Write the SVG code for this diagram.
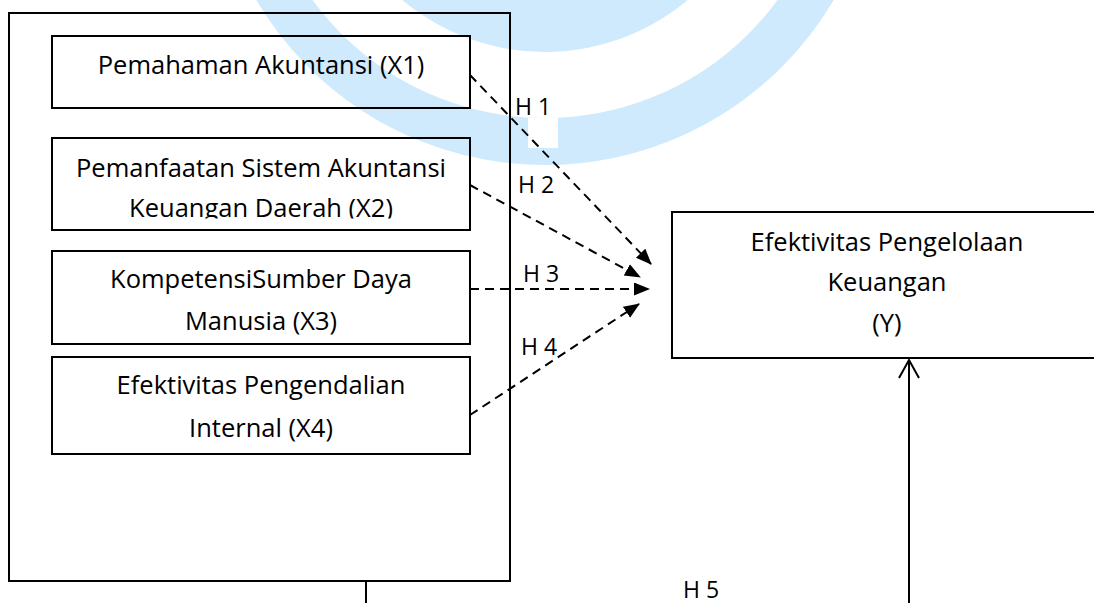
<svg xmlns="http://www.w3.org/2000/svg" width="1094" height="603" viewBox="0 0 1094 603">
<style>
.box{fill:none;stroke:#000;stroke-width:2}
.nt{font-family:"Open Sans","Noto Sans",sans-serif;font-size:25.5px;fill:#000;text-anchor:middle}
.hl{font-family:"Open Sans","Noto Sans",sans-serif;font-size:23px;fill:#000}
.dash{fill:none;stroke:#000;stroke-width:2;stroke-dasharray:9 6}
.solid{fill:none;stroke:#000;stroke-width:2}
</style>
<defs>
<marker id="tri" markerUnits="userSpaceOnUse" markerWidth="16" markerHeight="14" refX="15" refY="6.5" orient="auto">
<path d="M0,0 L16,6.5 L0,13 z" fill="#000"/>
</marker>
<clipPath id="clip2"><rect x="52" y="138" width="418" height="80.5"/></clipPath>
</defs>
<rect width="1094" height="603" fill="#fff"/>
<g id="watermark">
<circle cx="545" cy="-170" r="311.5" fill="none" stroke="#cfeafc" stroke-width="47"/>
<circle cx="545" cy="-170" r="222" fill="#cfeafc"/>
<rect x="528" y="118" width="30" height="30" fill="#fff"/>
</g>
<g id="group-box">
<rect class="box" x="9" y="13" width="501" height="568"/>
</g>
<g id="x1">
<rect class="box" x="52" y="36" width="418" height="72" fill="#fff"/>
<text class="nt" x="261" y="74">Pemahaman Akuntansi (X1)</text>
</g>
<g id="x2">
<rect class="box" x="52" y="138" width="418" height="92"/>
<g clip-path="url(#clip2)">
<text class="nt" x="261" y="177">Pemanfaatan Sistem Akuntansi</text>
<text class="nt" x="261" y="217">Keuangan Daerah (X2)</text>
</g>
</g>
<g id="x3">
<rect class="box" x="52" y="251" width="418" height="93"/>
<text class="nt" x="261" y="288">KompetensiSumber Daya</text>
<text class="nt" x="261" y="330">Manusia (X3)</text>
</g>
<g id="x4">
<rect class="box" x="52" y="357" width="418" height="97"/>
<text class="nt" x="261" y="394">Efektivitas Pengendalian</text>
<text class="nt" x="261" y="437">Internal (X4)</text>
</g>
<g id="y">
<rect class="box" x="672" y="212" width="425" height="146"/>
<text class="nt" x="887" y="251">Efektivitas Pengelolaan</text>
<text class="nt" x="887" y="291">Keuangan</text>
<text class="nt" x="887" y="332">(Y)</text>
</g>
<g id="connectors">
<line class="dash" x1="470" y1="75" x2="651" y2="264" marker-end="url(#tri)"/>
<line class="dash" x1="470" y1="185" x2="640" y2="277" marker-end="url(#tri)"/>
<line class="dash" x1="470" y1="289" x2="649" y2="289" marker-end="url(#tri)"/>
<line class="dash" x1="470" y1="415" x2="639" y2="304" marker-end="url(#tri)"/>
<line class="solid" x1="366" y1="581" x2="366" y2="603"/>
<line class="solid" x1="909" y1="603" x2="909" y2="360"/>
<polyline class="solid" points="899,378 909,360 919,378"/>
</g>
<g id="labels">
<text class="hl" x="515" y="115">H 1</text>
<text class="hl" x="518" y="193">H 2</text>
<text class="hl" x="523" y="282">H 3</text>
<text class="hl" x="521" y="355">H 4</text>
<text class="hl" x="683" y="598">H 5</text>
</g>
</svg>
